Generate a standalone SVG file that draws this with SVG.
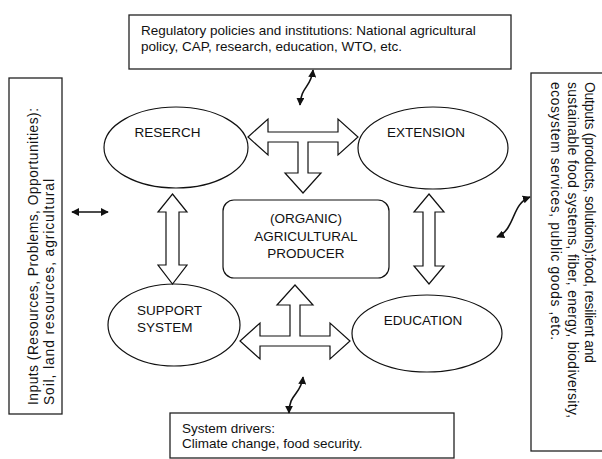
<svg xmlns="http://www.w3.org/2000/svg" width="602" height="459" viewBox="0 0 602 459">
<defs>
<style>
.box{fill:#fff;stroke:#222;stroke-width:1.3}
.node{fill:#fff;stroke:#111;stroke-width:1.2}
.big{fill:#fff;stroke:#111;stroke-width:1.2;stroke-linejoin:miter}
.t{font-family:"Liberation Sans",Arial,sans-serif;font-size:13.5px;fill:#111}
.r{font-size:13.8px}
.c{text-anchor:middle}
.link{fill:none;stroke:#111;stroke-width:1.6;marker-start:url(#ah);marker-end:url(#ah)}
</style>
<marker id="ah" viewBox="0 0 10 10" refX="9" refY="5" markerWidth="8" markerHeight="8" markerUnits="userSpaceOnUse" orient="auto-start-reverse">
<path d="M0,0 L10,5 L0,10 z" fill="#111"/>
</marker>
</defs>
<rect width="602" height="459" fill="#fff"/>

<g id="regulatory">
<rect class="box" x="129" y="15" width="382" height="54"/>
<text class="t" x="141" y="35">Regulatory policies and institutions: National agricultural</text>
<text class="t" x="141" y="51">policy, CAP, research, education, WTO, etc.</text>
</g>

<g id="inputs">
<rect class="box" x="9" y="78" width="53" height="336"/>
<text class="t r" transform="translate(38,405) rotate(-90)" textLength="297" lengthAdjust="spacing">Inputs (Resources, Problems, Opportunities):</text>
<text class="t r" transform="translate(54,405) rotate(-90)" textLength="226" lengthAdjust="spacing">Soil, land resources, agricultural</text>
</g>

<g id="outputs">
<rect class="box" x="531" y="73" width="80" height="378"/>
<text class="t r" transform="translate(585,82) rotate(90)" textLength="281" lengthAdjust="spacing">Outputs (products, solutions):food, resilient and</text>
<text class="t r" transform="translate(568,82) rotate(90)" textLength="336" lengthAdjust="spacing">sustainable food systems, fiber, energy, biodiversity,</text>
<text class="t r" transform="translate(551,82) rotate(90)" textLength="258" lengthAdjust="spacing">ecosystem services, public goods ,etc.</text>
</g>

<g id="drivers">
<rect class="box" x="170" y="413" width="284" height="45"/>
<text class="t" x="182" y="433">System drivers:</text>
<text class="t" x="182" y="448">Climate change, food security.</text>
</g>

<g id="research">
<ellipse class="node" cx="176" cy="147.5" rx="72" ry="40.5"/>
<text class="t c" x="167.5" y="137">RESERCH</text>
</g>

<g id="extension">
<ellipse class="node" cx="433" cy="148" rx="75" ry="41"/>
<text class="t c" x="426" y="137">EXTENSION</text>
</g>

<g id="support">
<ellipse class="node" cx="174" cy="325" rx="66" ry="41"/>
<text class="t" x="137" y="315">SUPPORT</text>
<text class="t" x="137" y="332">SYSTEM</text>
</g>

<g id="education">
<ellipse class="node" cx="427" cy="333.5" rx="75" ry="38.5"/>
<text class="t c" x="423" y="325">EDUCATION</text>
</g>

<g id="producer">
<rect class="node" x="223" y="200" width="166" height="78" rx="11"/>
<text class="t c" x="306" y="223">(ORGANIC)</text>
<text class="t c" x="306" y="241">AGRICULTURAL</text>
<text class="t c" x="306" y="258">PRODUCER</text>
</g>

<g id="connectors">
<polygon class="big" points="248,137 268,119 268,132 338,132 338,119 358,137 338,155 338,142 308,142 308,173 321,173 303,193 285,173 298,173 298,142 268,142 268,155"/>
<polygon class="big" points="295,285 313,305 300,305 300,336 330,336 330,323 350,341 330,359 330,346 260,346 260,359 240,341 260,323 260,336 290,336 290,305 277,305"/>
<polygon class="big" points="172.5,194 187,212 179,212 179,265 187,265 172.5,284 158,265 166,265 166,212 158,212"/>
<polygon class="big" points="429,194 444,212 435,212 435,266 444,266 429,284 414,266 423,266 423,212 414,212"/>
<path class="link" d="M313,70 C311,88 301,86 300,105"/>
<path class="link" d="M72,212 L108,212"/>
<path class="link" d="M530,197 C511,204 516,229 497,237"/>
<path class="link" d="M303,377 C301,395 289,393 289,413"/>
</g>
</svg>
